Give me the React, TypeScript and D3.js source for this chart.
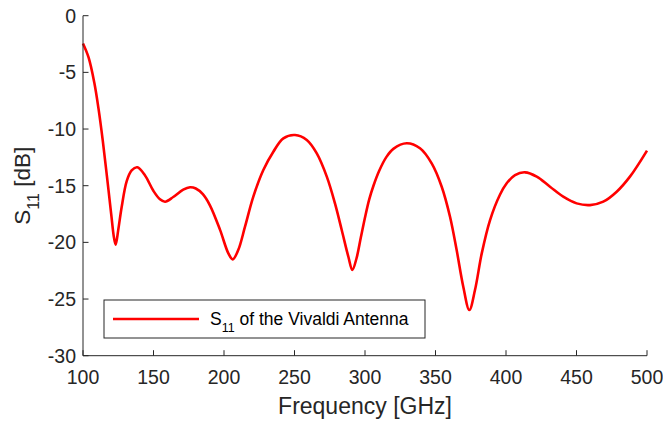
import React from "react";
import * as d3 from "d3";

const freqs = [100, 104, 108, 111, 114, 117, 120, 122, 123.2, 125, 127.4, 131, 134.5, 138.5, 144, 149.9, 154.6, 158.2, 164, 171.1, 175.9, 180, 185, 190.1, 197.2, 203.1, 206.2, 210.1, 214.9, 220.8, 227.9, 235, 242.1, 250.4, 258.7, 265.8, 272.9, 278.7, 283.5, 288.2, 291, 294, 297, 300, 303, 306, 310, 315, 320.1, 329.6, 339, 347.3, 354.4, 360.3, 365, 369.7, 374, 378, 382.8, 388.7, 395.7, 400.5, 406.4, 413.5, 421.8, 431.2, 440.6, 450.1, 459.6, 469, 478.5, 487.9, 500];
const s11 = [-2.45, -3.7, -5.9, -8.2, -11.0, -14.2, -17.5, -19.6, -20.2, -18.9, -16.9, -14.6, -13.65, -13.38, -14.1, -15.45, -16.2, -16.41, -16.0, -15.35, -15.14, -15.25, -15.75, -16.75, -18.9, -20.97, -21.5, -20.68, -18.62, -15.97, -13.62, -12.0, -10.82, -10.53, -10.97, -12.15, -14.2, -16.56, -18.91, -21.27, -22.44, -21.4, -19.6, -17.8, -16.2, -15.0, -13.7, -12.5, -11.75, -11.26, -11.7, -13.03, -15.09, -17.74, -20.68, -23.91, -25.97, -24.21, -20.97, -18.03, -15.8, -14.79, -14.06, -13.82, -14.2, -15.09, -15.97, -16.56, -16.71, -16.41, -15.53, -14.2, -11.9];
const xTicks = [100, 150, 200, 250, 300, 350, 400, 450, 500];
const yTicks = [0, -5, -10, -15, -20, -25, -30];

const W = 663, H = 424;
const left = 83, right = 647, top = 15.7, bottom = 355.7;
const font = "'Liberation Sans', Arial, Helvetica, sans-serif";
const axisColor = "#262626";

export default function App() {
  const x = d3.scaleLinear().domain([100, 500]).range([left, right]);
  const y = d3.scaleLinear().domain([-30, 0]).range([bottom, top]);
  const data = freqs.map((f, i) => [f, s11[i]] as [number, number]);
  const line = d3.line<[number, number]>().x(d => x(d[0])).y(d => y(d[1])).curve(d3.curveCatmullRom.alpha(0.5));
  const tickLen = 5.5;
  return (
    <>
      <style>{`body{margin:0}`}</style>
      <svg width={W} height={H} style={{ display: "block" }} fontFamily={font}>
        <rect width={W} height={H} fill="#fff" />
        <path d={line(data) || ""} fill="none" stroke="#ff0000" strokeWidth={2.6} strokeLinejoin="round" />
        <line x1={left} x2={left} y1={top} y2={bottom} stroke={axisColor} strokeWidth={1} />
        <line x1={left} x2={right} y1={bottom} y2={bottom} stroke={axisColor} strokeWidth={1} />
        {yTicks.map(t => (
          <g key={"y" + t}>
            <line x1={left} x2={left + tickLen} y1={y(t)} y2={y(t)} stroke={axisColor} />
            <text x={left - 7} y={y(t)} dy="0.35em" textAnchor="end" fontSize={19.5} fill={axisColor}>{t}</text>
          </g>
        ))}
        {xTicks.map(t => (
          <g key={"x" + t}>
            <line x1={x(t)} x2={x(t)} y1={bottom} y2={bottom - tickLen} stroke={axisColor} />
            <text x={x(t)} y={383.5} textAnchor="middle" fontSize={19.5} fill={axisColor}>{t}</text>
          </g>
        ))}
        <text x={(left + right) / 2} y={414} textAnchor="middle" fontSize={23} fill={axisColor}>Frequency [GHz]</text>
        <text transform={`translate(30,${(top + bottom) / 2}) rotate(-90)`} textAnchor="middle" fontSize={22.5} fill={axisColor}>
          S<tspan baselineShift="sub" fontSize={16}>11</tspan><tspan> [dB]</tspan>
        </text>
        <rect x={104} y={300} width={321} height={38} fill="#fff" stroke={axisColor} strokeWidth={1} />
        <line x1={113} x2={199} y1={319} y2={319} stroke="#ff0000" strokeWidth={2.6} />
        <text x={210} y={325} fontSize={17.5} fill="#000">
          S<tspan baselineShift="sub" fontSize={12.5}>11</tspan><tspan> of the Vivaldi Antenna</tspan>
        </text>
      </svg>
    </>
  );
}
